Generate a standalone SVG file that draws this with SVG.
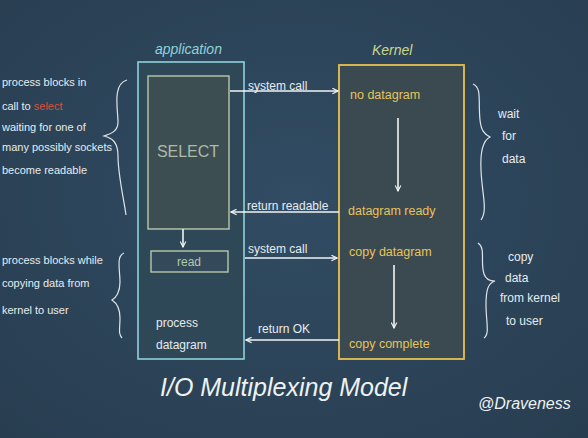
<svg xmlns="http://www.w3.org/2000/svg" width="588" height="438" viewBox="0 0 588 438">
<style>
.t{font-family:"Liberation Sans","DejaVu Sans",sans-serif;}
.w{fill:#e6ecef;font-size:12px;}
.n{font-size:11px;}
.y{fill:#e8c35a;font-size:12.5px;}
.c{fill:none;stroke:#f2f4f4;stroke-width:1.6;}
.br{fill:none;stroke:#dfe6ea;stroke-width:1.2;}
</style>
<defs>
<radialGradient id="bg" cx="0.5" cy="0.45" r="0.75">
<stop offset="0" stop-color="#314c63"/>
<stop offset="1" stop-color="#283d50"/>
</radialGradient>
<marker id="ah" viewBox="0 0 10 10" refX="9" refY="5" markerWidth="7" markerHeight="7" orient="auto" markerUnits="userSpaceOnUse">
<path d="M1,1 L9,5 L1,9" fill="none" stroke="#f2f4f4" stroke-width="1.6"/>
</marker>
</defs>
<rect x="0" y="0" width="588" height="438" fill="url(#bg)"/>

<g id="application">
<rect x="138" y="62" width="106" height="297" fill="#2f4858" stroke="#8fd2da" stroke-width="1.6"/>
<text class="t" x="155" y="54" fill="#8fd2da" font-size="14" font-style="italic">application</text>
<text class="t w" x="156" y="327" font-size="12">process</text>
<text class="t w" x="156" y="349" font-size="12">datagram</text>
</g>

<g id="select">
<rect x="148" y="76" width="81" height="153" fill="#3c4e52" stroke="#b7c8aa" stroke-width="1.4"/>
<text class="t" x="188" y="157" fill="#aebaa8" font-size="16" text-anchor="middle">SELECT</text>
</g>

<g id="read">
<rect x="151" y="251" width="77" height="21" fill="#34495a" stroke="#b7c8aa" stroke-width="1.4"/>
<text class="t" x="189" y="266" fill="#b7c8aa" font-size="12" text-anchor="middle">read</text>
</g>

<g id="kernel">
<rect x="339" y="65" width="125" height="294" fill="#3a4a50" stroke="#e8c050" stroke-width="1.8"/>
<text class="t" x="372" y="55" fill="#c9d88f" font-size="14" font-style="italic">Kernel</text>
</g>

<g id="no-datagram"><text class="t y" x="350" y="99">no datagram</text></g>
<g id="datagram-ready"><text class="t y" x="348" y="215">datagram ready</text></g>
<g id="copy-datagram"><text class="t y" x="349" y="256">copy datagram</text></g>
<g id="copy-complete"><text class="t y" x="349" y="348">copy complete</text></g>

<g id="connectors">
<line class="c" x1="230" y1="91" x2="338" y2="91" marker-end="url(#ah)"/>
<line class="c" x1="339" y1="212" x2="231" y2="212" marker-end="url(#ah)"/>
<line class="c" x1="245" y1="258" x2="337" y2="258" marker-end="url(#ah)"/>
<line class="c" x1="339" y1="340" x2="246" y2="340" marker-end="url(#ah)"/>
<line class="c" x1="398" y1="118" x2="398" y2="191" marker-end="url(#ah)"/>
<line class="c" x1="394" y1="265" x2="394" y2="328" marker-end="url(#ah)"/>
<line class="c" x1="183" y1="229" x2="183" y2="247" marker-end="url(#ah)"/>
</g>

<g id="connector-labels">
<text class="t w" x="248" y="90" font-size="11">system call</text>
<text class="t w" x="247" y="210" font-size="11">return readable</text>
<text class="t w" x="248" y="253" font-size="11">system call</text>
<text class="t w" x="258" y="333" font-size="11">return OK</text>
</g>

<g id="note-select">
<path class="br" d="M127,80 C112,84 118,110 118,122 C118,132 110,134 104,136 C112,138 118,142 118,156 C118,175 124,200 126,215"/>
<text class="t w n" x="2" y="86">process blocks in</text>
<text class="t w n" x="2" y="110">call to <tspan fill="#d8503c">select</tspan></text>
<text class="t w n" x="2" y="131">waiting for one of</text>
<text class="t w n" x="2" y="151">many possibly sockets</text>
<text class="t w n" x="2" y="174">become readable</text>
</g>

<g id="note-read">
<path class="br" d="M124,253 C116,256 120,270 120,282 C120,292 116,298 112,300 C118,304 120,310 120,318 C120,328 118,334 122,338"/>
<text class="t w n" x="2" y="264">process blocks while</text>
<text class="t w n" x="2" y="287">copying data from</text>
<text class="t w n" x="2" y="314">kernel to user</text>
</g>

<g id="note-wait">
<path class="br" d="M473,84 C482,88 478,100 480,120 C481,130 484,134 490,137 C484,140 480,150 481,170 C482,195 488,210 481,220"/>
<text class="t w" x="498" y="118">wait</text>
<text class="t w" x="502" y="140">for</text>
<text class="t w" x="502" y="163">data</text>
</g>

<g id="note-copy">
<path class="br" d="M478,243 C486,248 480,262 484,274 C486,280 490,281 495,281 C488,283 486,290 486,305 C486,322 490,334 484,338"/>
<text class="t w" x="508" y="261" font-size="13">copy</text>
<text class="t w" x="505" y="282" font-size="9">data</text>
<text class="t w" x="500" y="302">from kernel</text>
<text class="t w" x="506" y="325">to user</text>
</g>

<g id="title">
<text class="t" x="160" y="396" fill="#eef2f3" font-size="25" font-style="italic">I/O Multiplexing Model</text>
<text class="t" x="478" y="409" fill="#eef2f3" font-size="16" font-style="italic">@Draveness</text>
</g>
</svg>
